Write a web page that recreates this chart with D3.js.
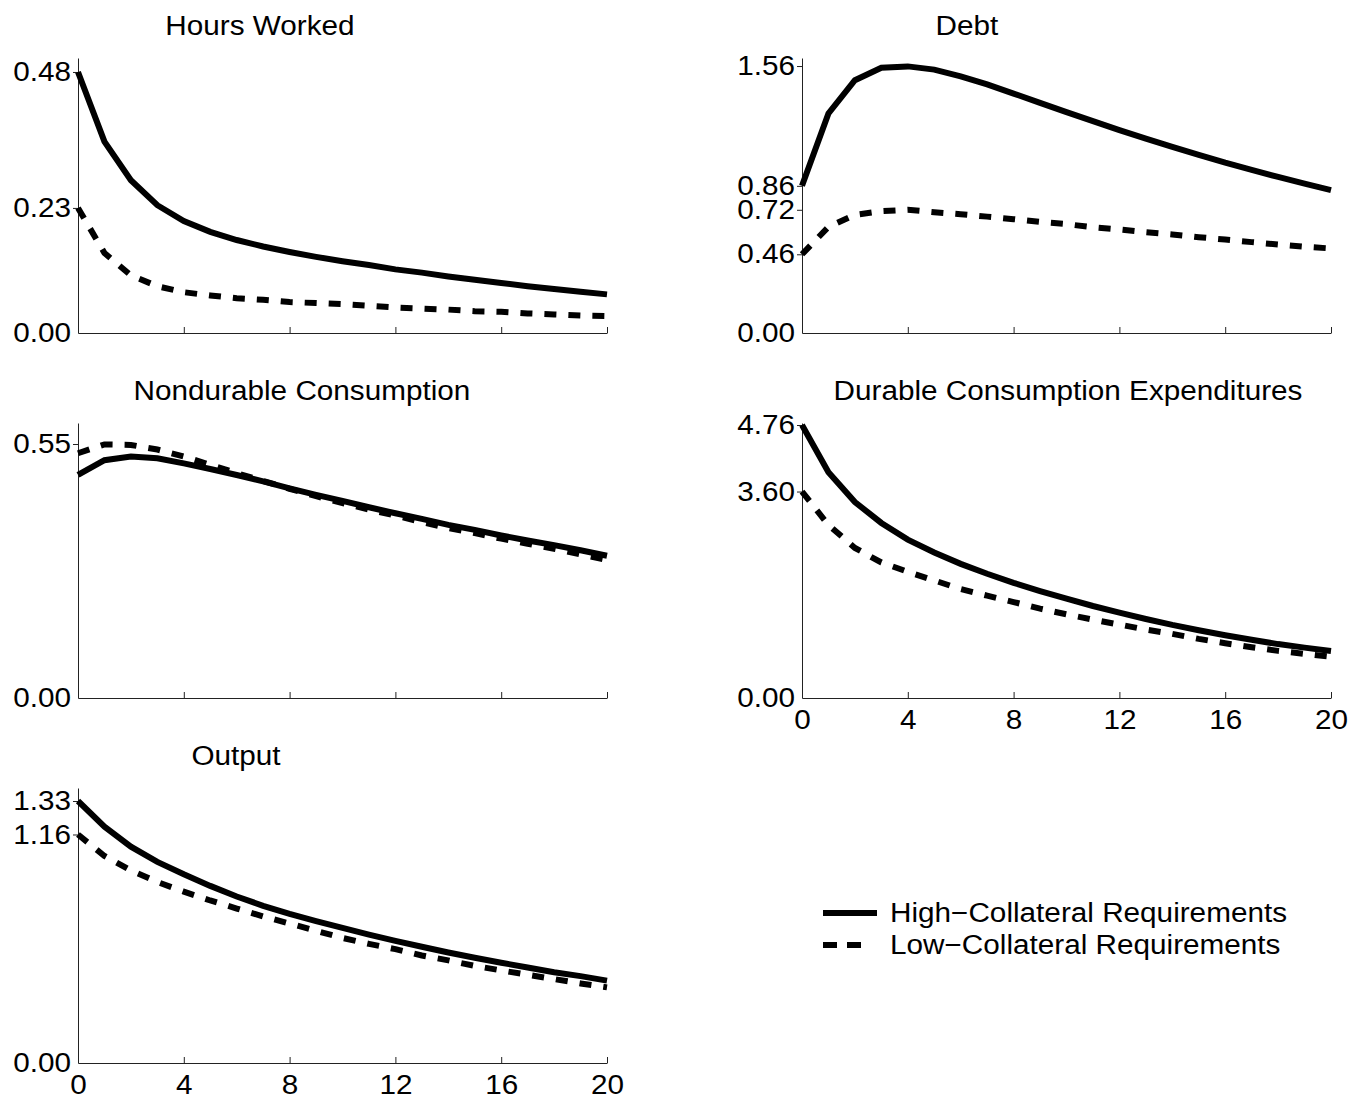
<!DOCTYPE html>
<html>
<head>
<meta charset="utf-8">
<script src="https://cdn.jsdelivr.net/npm/d3@7"></script>
<style>
  body { margin: 0; background: #fff; }
  svg text { font-family: "Liberation Sans", Arial, Helvetica, sans-serif; fill: #000; }
</style>
</head>
<body>
<svg id="chart" width="1367" height="1103"></svg>
<script>
// quarters after the shock
var periods = [0, 1, 2, 3, 4, 5, 6, 7, 8, 9, 10, 11, 12, 13, 14, 15, 16, 17, 18, 19, 20];
var xTicks = [0, 4, 8, 12, 16, 20];

var titles = ['Hours Worked', 'Debt', 'Nondurable Consumption', 'Durable Consumption Expenditures', 'Output'];
var seriesNames = ['High\u2212Collateral Requirements', 'Low\u2212Collateral Requirements'];

var hoursHigh = [0.480, 0.352, 0.281, 0.235, 0.206, 0.186, 0.171, 0.159, 0.149, 0.140, 0.132, 0.125, 0.117, 0.111, 0.104, 0.098, 0.092, 0.086, 0.081, 0.076, 0.071];
var hoursLow  = [0.230, 0.147, 0.106, 0.086, 0.075, 0.069, 0.064, 0.061, 0.057, 0.055, 0.053, 0.050, 0.047, 0.045, 0.043, 0.040, 0.039, 0.036, 0.034, 0.032, 0.031];

var debtHigh = [0.860, 1.283, 1.477, 1.550, 1.558, 1.539, 1.500, 1.453, 1.399, 1.345, 1.291, 1.238, 1.186, 1.136, 1.088, 1.041, 0.995, 0.953, 0.912, 0.873, 0.835];
var debtLow  = [0.460, 0.620, 0.690, 0.712, 0.720, 0.706, 0.694, 0.680, 0.665, 0.649, 0.636, 0.618, 0.605, 0.589, 0.576, 0.560, 0.546, 0.531, 0.517, 0.504, 0.494];

var nondHigh = [0.483, 0.515, 0.523, 0.519, 0.508, 0.496, 0.483, 0.469, 0.454, 0.440, 0.427, 0.413, 0.400, 0.388, 0.375, 0.364, 0.352, 0.341, 0.331, 0.320, 0.308];
var nondLow  = [0.530, 0.549, 0.548, 0.538, 0.523, 0.505, 0.487, 0.470, 0.453, 0.437, 0.422, 0.408, 0.395, 0.381, 0.368, 0.357, 0.345, 0.334, 0.323, 0.311, 0.299];

var durHigh = [4.760, 3.938, 3.417, 3.052, 2.762, 2.536, 2.339, 2.166, 2.009, 1.865, 1.731, 1.604, 1.488, 1.378, 1.274, 1.181, 1.095, 1.015, 0.940, 0.878, 0.820];
var durLow  = [3.600, 3.017, 2.617, 2.363, 2.200, 2.050, 1.899, 1.784, 1.673, 1.558, 1.459, 1.367, 1.280, 1.193, 1.118, 1.031, 0.955, 0.886, 0.822, 0.770, 0.718];

var outHigh = [1.330, 1.200, 1.098, 1.021, 0.958, 0.899, 0.845, 0.798, 0.757, 0.720, 0.686, 0.652, 0.620, 0.590, 0.561, 0.534, 0.509, 0.485, 0.461, 0.441, 0.418];
var outLow  = [1.160, 1.051, 0.977, 0.919, 0.870, 0.825, 0.784, 0.744, 0.708, 0.671, 0.635, 0.605, 0.578, 0.546, 0.521, 0.493, 0.470, 0.448, 0.426, 0.404, 0.384];

var yTicks = [
  [0, 0.23, 0.48],
  [0, 0.46, 0.72, 0.86, 1.56],
  [0, 0.55],
  [0, 3.60, 4.76],
  [0, 1.16, 1.33]
];
var yMax = [0.5057, 1.607, 0.5955, 4.795, 1.396];

// panel placement: left edge, x-axis baseline, title centre, show x labels
var layout = [
  { left: 78,  base: 333,  titleX: 260,  xLabels: false },
  { left: 802, base: 333,  titleX: 967,  xLabels: false },
  { left: 78,  base: 698,  titleX: 302,  xLabels: false },
  { left: 802, base: 698,  titleX: 1068, xLabels: true },
  { left: 78,  base: 1063, titleX: 236,  xLabels: true }
];
var plotW = 529, plotH = 275;
var fontSize = 27;
var stretch = 1.1; // the original type is a bit wider than Liberation Sans

var panels = [
  [hoursHigh, hoursLow],
  [debtHigh, debtLow],
  [nondHigh, nondLow],
  [durHigh, durLow],
  [outHigh, outLow]
];

var svg = d3.select('#chart');
var dashes = [null, '12,12'];

panels.forEach((pair, i) => {
  var lay = layout[i];
  var g = svg.append('g')
    .attr('transform', 'translate(' + lay.left + ',' + (lay.base - plotH) + ')');

  var x = d3.scaleLinear().domain([0, 20]).range([0, plotW]);
  var y = d3.scaleLinear().domain([0, yMax[i]]).range([plotH, 0]);

  var xAxis = g.append('g')
    .attr('transform', 'translate(0,' + plotH + ')')
    .call(d3.axisBottom(x).tickValues(xTicks).tickSizeInner(-6).tickSizeOuter(0).tickPadding(12)
      .tickFormat(lay.xLabels ? d3.format('d') : ''));
  xAxis.selectAll('text').attr('font-size', fontSize).attr('dy', '0.71em');

  var yAxis = g.append('g')
    .call(d3.axisLeft(y).tickValues(yTicks[i]).tickSizeInner(5).tickSizeOuter(0).tickPadding(2)
      .tickFormat(d3.format('.2f')));
  yAxis.selectAll('text').attr('font-size', fontSize);

  g.selectAll('.domain').attr('stroke', '#222').attr('stroke-width', 1);
  g.selectAll('.tick line').attr('stroke', '#222').attr('stroke-width', 1);
  g.selectAll('.tick').filter(d => d === 0).select('line').remove();

  var line = d3.line()
    .x((d, k) => x(periods[k]))
    .y(d => y(d));

  g.selectAll('path.series')
    .data(pair)
    .enter().append('path')
      .attr('class', 'series')
      .attr('d', line)
      .attr('fill', 'none')
      .attr('stroke', '#000')
      .attr('stroke-width', 6)
      .attr('stroke-linejoin', 'miter')
      .attr('stroke-dasharray', (d, k) => dashes[k]);

  svg.append('text')
    .attr('x', lay.titleX)
    .attr('y', lay.base - plotH - 23)
    .attr('text-anchor', 'middle')
    .attr('font-size', fontSize)
    .text(titles[i]);
});

// legend
var legend = svg.append('g').attr('transform', 'translate(823,913)');
var items = legend.selectAll('g')
  .data(seriesNames)
  .enter().append('g')
    .attr('transform', (d, k) => 'translate(0,' + k * 32 + ')');
items.append('line')
  .attr('x1', 0).attr('x2', (d, k) => k ? 48 : 54)
  .attr('stroke', '#000')
  .attr('stroke-width', 6)
  .attr('stroke-dasharray', (d, k) => k ? '14,10' : null);
items.append('text')
  .attr('x', 67)
  .attr('dy', '0.35em')
  .attr('font-size', fontSize)
  .text(d => d);

// widen every label a little
svg.selectAll('text').each(function () {
  var w = this.getComputedTextLength();
  if (w > 0) {
    d3.select(this)
      .attr('textLength', w * stretch)
      .attr('lengthAdjust', 'spacingAndGlyphs');
  }
});
</script>
</body>
</html>
